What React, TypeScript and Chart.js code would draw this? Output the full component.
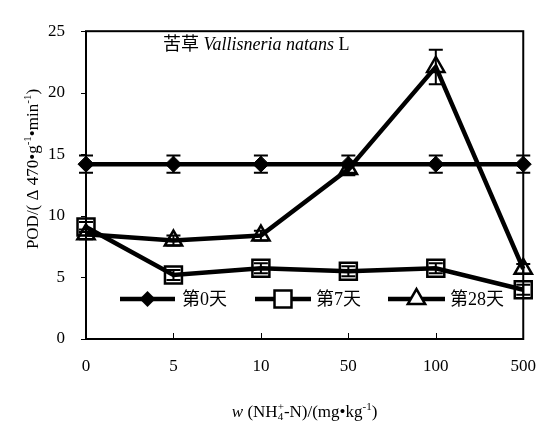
import React, { useEffect, useRef } from 'react';
import { Chart, registerables } from 'chart.js';
Chart.register(...registerables);

const categories = ['0', '5', '10', '50', '100', '500'];
const day0Values = [14.2, 14.2, 14.2, 14.2, 14.2, 14.2];
const day0Errors = [0.7, 0.7, 0.7, 0.7, 0.7, 0.7];
const day7Values = [9.1, 5.2, 5.75, 5.5, 5.75, 4.0];
const day7Errors = [0.4, 0.4, 0.4, 0.4, 0.4, 0.4];
const day28Values = [8.5, 8.0, 8.4, 13.8, 22.1, 5.7];
const day28Errors = [0.4, 0.4, 0.4, 0.5, 1.4, 0.4];
const yTicks = [0, 5, 10, 15, 20, 25];
const seriesNames = ['第0天', '第7天', '第28天'];
const errorSets = [day0Errors, day7Errors, day28Errors];

const SERIF = "'Liberation Serif', 'Times New Roman', 'Noto Sans CJK SC', serif";

type Seg = { t?: string; it?: boolean; sup?: string; sub?: string };

function fnt(size: number, it?: boolean) {
  return `${it ? 'italic ' : ''}${size}px ${SERIF}`;
}
function segW(ctx: CanvasRenderingContext2D, s: Seg, size: number) {
  if (s.t !== undefined) {
    ctx.font = fnt(size, s.it);
    return ctx.measureText(s.t).width;
  }
  ctx.font = fnt(size * 0.65);
  return Math.max(s.sup ? ctx.measureText(s.sup).width : 0, s.sub ? ctx.measureText(s.sub).width : 0);
}
function drawRich(ctx: CanvasRenderingContext2D, segs: Seg[], x0: number, cy: number, size: number, align: 'left' | 'center') {
  let total = 0;
  segs.forEach((s) => (total += segW(ctx, s, size)));
  let x = align === 'center' ? x0 - total / 2 : x0;
  const base = cy + size * 0.35;
  ctx.textAlign = 'left';
  ctx.textBaseline = 'alphabetic';
  ctx.fillStyle = '#000';
  segs.forEach((s) => {
    const w = segW(ctx, s, size);
    if (s.t !== undefined) {
      ctx.font = fnt(size, s.it);
      ctx.fillText(s.t, x, base);
    } else {
      ctx.font = fnt(size * 0.65);
      if (s.sup) ctx.fillText(s.sup, x, base - size * 0.4);
      if (s.sub) ctx.fillText(s.sub, x, base + size * 0.2);
    }
    x += w;
  });
}

function marker(ctx: CanvasRenderingContext2D, kind: number, x: number, y: number) {
  ctx.save();
  ctx.strokeStyle = '#000';
  ctx.fillStyle = '#000';
  ctx.lineWidth = 2.5;
  ctx.beginPath();
  if (kind === 0) {
    const r = 8;
    ctx.moveTo(x, y - r);
    ctx.lineTo(x + r, y);
    ctx.lineTo(x, y + r);
    ctx.lineTo(x - r, y);
    ctx.closePath();
    ctx.fill();
  } else if (kind === 1) {
    const h = 12 * Math.SQRT1_2;
    ctx.rect(x - h, y - h, 2 * h, 2 * h);
    ctx.fillStyle = '#fff';
    ctx.fill();
    ctx.stroke();
  } else {
    const r = 10;
    ctx.moveTo(x, y - r);
    ctx.lineTo(x + r * Math.sin(Math.PI / 3), y + r / 2);
    ctx.lineTo(x - r * Math.sin(Math.PI / 3), y + r / 2);
    ctx.closePath();
    ctx.fillStyle = '#fff';
    ctx.fill();
    ctx.stroke();
  }
  ctx.restore();
}

const decor = {
  id: 'decor',
  afterDatasetsDraw(chart: any) {
    const ctx: CanvasRenderingContext2D = chart.ctx;
    const xs = chart.scales.x;
    const ys = chart.scales.y;
    ctx.save();
    ctx.strokeStyle = '#000';
    ctx.lineWidth = 2;
    chart.data.datasets.forEach((ds: any, i: number) => {
      ds.data.forEach((v: number, j: number) => {
        const e = errorSets[i][j];
        const x = xs.getPixelForValue(j);
        const y1 = ys.getPixelForValue(v + e);
        const y2 = ys.getPixelForValue(v - e);
        ctx.beginPath();
        ctx.moveTo(x, y1);
        ctx.lineTo(x, y2);
        ctx.moveTo(x - 7, y1);
        ctx.lineTo(x + 7, y1);
        ctx.moveTo(x - 7, y2);
        ctx.lineTo(x + 7, y2);
        ctx.stroke();
      });
    });
    ctx.restore();
  },
  afterDraw(chart: any) {
    const ctx: CanvasRenderingContext2D = chart.ctx;
    const a = chart.chartArea;
    const xs = chart.scales.x;
    const ys = chart.scales.y;
    ctx.save();
    ctx.strokeStyle = '#000';
    ctx.lineWidth = 2;
    ctx.strokeRect(a.left, a.top, a.right - a.left, a.bottom - a.top);
    ctx.lineWidth = 1;
    ctx.beginPath();
    categories.forEach((_, j) => {
      const x = Math.round(xs.getPixelForValue(j)) + 0.5;
      ctx.moveTo(x, a.bottom);
      ctx.lineTo(x, a.bottom - 6);
    });
    yTicks.forEach((t) => {
      const y = Math.round(ys.getPixelForValue(t)) + 0.5;
      ctx.moveTo(a.left, y);
      ctx.lineTo(a.left - 5, y);
    });
    ctx.stroke();

    // annotation
    drawRich(ctx, [{ t: '苦草 ' }, { t: 'Vallisneria natans', it: true }, { t: ' L' }], 163, 44, 18, 'left');

    // x title
    drawRich(
      ctx,
      [{ t: 'w', it: true }, { t: ' (NH' }, { sub: '4', sup: '+' }, { t: '-N)/(mg•kg' }, { sup: '-1' }, { t: ')' }],
      (a.left + a.right) / 2,
      411,
      17,
      'center'
    );
    // y title
    ctx.save();
    ctx.translate(32, 169);
    ctx.rotate(-Math.PI / 2);
    drawRich(ctx, [{ t: 'POD/( Δ 470•g' }, { sup: '-1' }, { t: '•min' }, { sup: '-1' }, { t: ')' }], 0, 0, 17, 'center');
    ctx.restore();

    // legend
    const items = [
      { x1: 120, x2: 175, tx: 182 },
      { x1: 255, x2: 311, tx: 316 },
      { x1: 388, x2: 445, tx: 450 },
    ];
    const ly = 299;
    items.forEach((it, k) => {
      ctx.strokeStyle = '#000';
      ctx.lineWidth = 4.5;
      ctx.beginPath();
      ctx.moveTo(it.x1, ly);
      ctx.lineTo(it.x2, ly);
      ctx.stroke();
      marker(ctx, k, (it.x1 + it.x2) / 2, ly);
      ctx.fillStyle = '#000';
      ctx.font = `18px ${SERIF}`;
      ctx.textAlign = 'left';
      ctx.textBaseline = 'middle';
      ctx.fillText(seriesNames[k], it.tx, ly + 1);
    });
    ctx.restore();
  },
};

export default function App() {
  const ref = useRef<HTMLCanvasElement>(null);
  useEffect(() => {
    document.body.style.margin = '0';
    if (!ref.current) return;
    const common = {
      borderColor: '#000',
      borderWidth: 4.5,
      tension: 0,
      clip: false as any,
      pointBorderColor: '#000',
    };
    const chart = new Chart(ref.current, {
      type: 'line',
      data: {
        labels: categories,
        datasets: [
          {
            ...common,
            label: seriesNames[0],
            data: day0Values,
            pointStyle: 'rectRot',
            pointRadius: 8,
            pointBackgroundColor: '#000',
            pointBorderWidth: 1,
          },
          {
            ...common,
            label: seriesNames[1],
            data: day7Values,
            pointStyle: 'rect',
            pointRadius: 12,
            pointBackgroundColor: 'rgba(0,0,0,0)',
            pointBorderWidth: 2.5,
          },
          {
            ...common,
            label: seriesNames[2],
            data: day28Values,
            pointStyle: 'triangle',
            pointRadius: 10,
            pointBackgroundColor: 'rgba(0,0,0,0)',
            pointBorderWidth: 2.5,
          },
        ],
      },
      options: {
        animation: false,
        responsive: true,
        maintainAspectRatio: false,
        layout: { padding: { top: 18, right: 20, left: 0, bottom: 0 } },
        plugins: { legend: { display: false }, tooltip: { enabled: false } },
        scales: {
          x: {
            type: 'category',
            offset: false,
            grid: { display: false, drawTicks: false },
            border: { display: false },
            ticks: { color: '#000', font: { family: SERIF, size: 17 }, padding: 17, maxRotation: 0, autoSkip: false },
            afterFit(s: any) {
              s.height = 84;
            },
          },
          y: {
            min: 0,
            max: 25,
            grid: { display: false, drawTicks: false },
            border: { display: false },
            ticks: { stepSize: 5, color: '#000', font: { family: SERIF, size: 17 }, padding: 21 },
            afterFit(s: any) {
              s.width = 86;
            },
          },
        },
      },
      plugins: [decor],
    });
    return () => chart.destroy();
  }, []);
  return (
    <div style={{ width: 553, height: 423, position: 'relative' }}>
      <canvas ref={ref} />
    </div>
  );
}
